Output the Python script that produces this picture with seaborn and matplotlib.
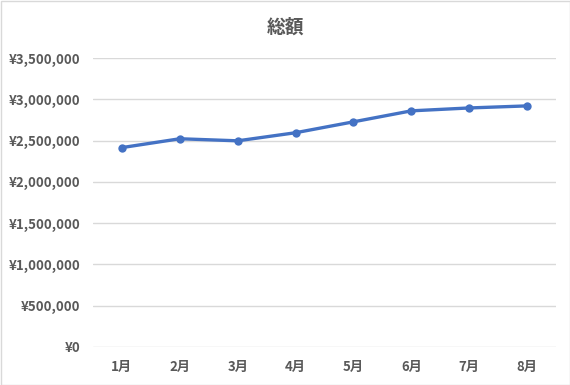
import matplotlib
matplotlib.use("Agg")
import matplotlib.pyplot as plt
import seaborn as sns
import pandas as pd
from matplotlib.ticker import FuncFormatter, MultipleLocator
from matplotlib.patches import Rectangle

months = ["1月", "2月", "3月", "4月", "5月", "6月", "7月", "8月"]
totals = [2415000, 2522000, 2497000, 2595000, 2727000, 2860000, 2895000, 2920000]
title = "総額"

df = pd.DataFrame({"month": months, "total": totals})

sns.set_theme(style="white")
plt.rcParams["font.family"] = ["Noto Sans CJK JP", "DejaVu Sans"]

fig = plt.figure(figsize=(5.7, 3.85), dpi=100)
ax = fig.add_axes([93 / 570, 1 - 347 / 385, (556 - 93) / 570, (347 - 58) / 385])

sns.lineplot(data=df, x="month", y="total", ax=ax, color="#4472C4", linewidth=2.4,
             marker="o", markersize=6, markeredgewidth=0, sort=False)

ax.set_ylim(0, 3500000)
ax.set_xlim(-0.5, len(months) - 0.5)
ax.yaxis.set_major_locator(MultipleLocator(500000))
ax.yaxis.set_major_formatter(FuncFormatter(lambda v, p: "¥{:,.0f}".format(v)))
ax.grid(axis="y", color="#D9D9D9", linewidth=1)
ax.set_axisbelow(True)
for s in ax.spines.values():
    s.set_visible(False)
ax.set_xlabel("")
ax.set_ylabel("")
ax.tick_params(axis="both", length=0, labelsize=9.5, labelcolor="#595959")
ax.tick_params(axis="y", pad=9)
ax.tick_params(axis="x", pad=9)
for lbl in ax.get_xticklabels() + ax.get_yticklabels():
    lbl.set_fontweight("bold")

fig.text(0.5, 1 - 27 / 385, title, ha="center", va="center", fontsize=13.5,
         fontweight="bold", color="#595959")

fig.patches.append(Rectangle((0.5 / 570, 0.5 / 385), 1 - 1 / 570, 1 - 1 / 385,
                             transform=fig.transFigure, fill=False,
                             edgecolor="#D9D9D9", linewidth=1))

fig.savefig("out.png", dpi=100)
